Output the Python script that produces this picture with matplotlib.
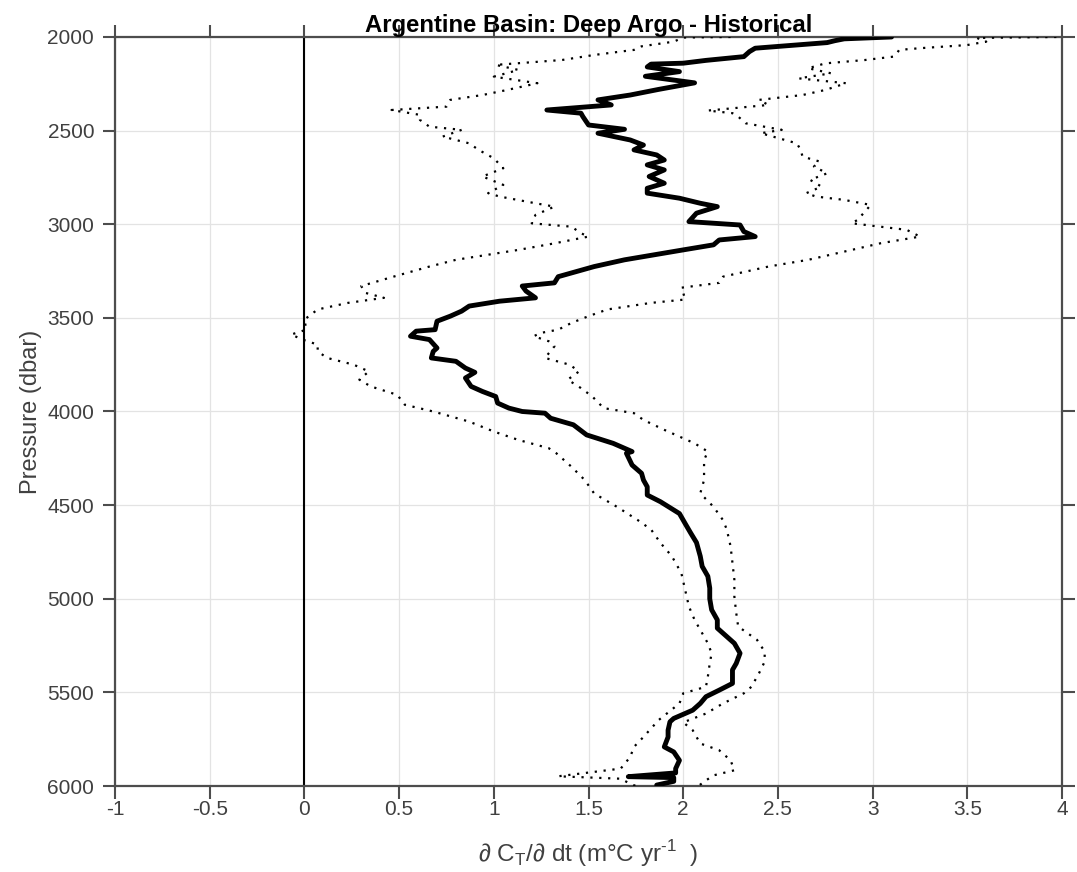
import numpy as np
import matplotlib
matplotlib.use("Agg")
import matplotlib.pyplot as plt

plt.rcParams['font.family'] = ['Liberation Sans', 'DejaVu Sans']
plt.rcParams['axes.unicode_minus'] = False
plt.rcParams['mathtext.fontset'] = 'custom'
plt.rcParams['mathtext.rm'] = 'Liberation Sans'

# mean warming-rate profile (solid line)
p_mean = [2000, 2010, 2020, 2030, 2060, 2078, 2105, 2125, 2140, 2145, 2160, 2185, 2210,
          2245, 2280, 2310, 2336, 2363, 2390, 2407, 2425, 2470, 2493, 2514, 2550, 2577,
          2603, 2630, 2657, 2683, 2710, 2745, 2781, 2808, 2834, 2861, 2888, 2906, 2941,
          2986, 3004, 3039, 3066, 3084, 3110, 3137, 3190, 3226, 3280, 3313, 3330, 3357,
          3393, 3411, 3437, 3464, 3491, 3518, 3563, 3571, 3598, 3616, 3661, 3679, 3714,
          3732, 3768, 3791, 3821, 3866, 3893, 3920, 3955, 3982, 4000, 4009, 4036, 4071,
          4125, 4170, 4214, 4223, 4286, 4330, 4366, 4402, 4446, 4482, 4545, 4598, 4650,
          4700, 4773, 4827, 4880, 4943, 5000, 5059, 5113, 5157, 5202, 5238, 5291, 5345,
          5380, 5452, 5488, 5523, 5559, 5595, 5639, 5657, 5702, 5738, 5791, 5818, 5863,
          5907, 5930, 5950, 5955, 5975, 5995]
dcdt_mean = [3.10, 2.85, 2.80, 2.76, 2.38, 2.35, 2.32, 2.12, 2.00, 1.83, 1.81, 1.98, 1.80,
             2.06, 1.87, 1.72, 1.55, 1.62, 1.28, 1.46, 1.47, 1.50, 1.69, 1.55, 1.72, 1.79,
             1.74, 1.86, 1.90, 1.81, 1.90, 1.82, 1.90, 1.81, 1.81, 1.98, 2.09, 2.18, 2.07,
             2.03, 2.30, 2.32, 2.38, 2.19, 2.16, 2.00, 1.69, 1.53, 1.34, 1.32, 1.15, 1.17,
             1.22, 1.03, 0.87, 0.83, 0.77, 0.70, 0.69, 0.59, 0.56, 0.66, 0.70, 0.68, 0.67,
             0.80, 0.85, 0.90, 0.85, 0.88, 0.94, 1.01, 1.02, 1.08, 1.15, 1.27, 1.30, 1.42,
             1.49, 1.63, 1.73, 1.70, 1.73, 1.78, 1.79, 1.81, 1.81, 1.88, 1.98, 2.01, 2.04,
             2.07, 2.09, 2.10, 2.13, 2.14, 2.14, 2.15, 2.18, 2.18, 2.23, 2.27, 2.30, 2.28,
             2.26, 2.26, 2.19, 2.12, 2.09, 2.05, 1.95, 1.93, 1.92, 1.92, 1.90, 1.95, 1.98,
             1.96, 1.96, 1.71, 1.95, 1.95, 1.86]

# lower bound (left dotted line)
p_lo = [2000, 2003, 2025, 2050, 2069, 2096, 2123, 2149, 2176, 2212, 2247, 2283, 2310,
        2336, 2372, 2390, 2416, 2443, 2479, 2496, 2532, 2568, 2603, 2648, 2701, 2745,
        2790, 2834, 2852, 2888, 2906, 2950, 2995, 3013, 3048, 3066, 3102, 3137, 3190,
        3226, 3280, 3330, 3366, 3393, 3420, 3455, 3509, 3563, 3589, 3616, 3643, 3679,
        3714, 3750, 3786, 3830, 3866, 3911, 3964, 4000, 4054, 4107, 4152, 4196, 4223,
        4295, 4366, 4438, 4509, 4580, 4630, 4702, 4773, 4863, 4952, 5041, 5113, 5166,
        5238, 5291, 5345, 5416, 5470, 5505, 5559, 5648, 5738, 5791, 5845, 5907, 5948,
        5961, 5988, 6000]
dcdt_lo = [2.25, 2.00, 1.95, 1.78, 1.74, 1.53, 1.36, 1.01, 1.13, 1.00, 1.23, 1.07, 0.94,
           0.77, 0.75, 0.46, 0.61, 0.61, 0.66, 0.83, 0.73, 0.87, 0.92, 1.00, 1.05, 0.94,
           1.05, 0.97, 1.03, 1.22, 1.32, 1.22, 1.20, 1.41, 1.46, 1.50, 1.32, 1.13, 0.80,
           0.66, 0.47, 0.30, 0.32, 0.42, 0.23, 0.07, 0.00, 0.01, -0.07, -0.01, 0.07, 0.07,
           0.12, 0.26, 0.34, 0.29, 0.35, 0.49, 0.53, 0.68, 0.87, 1.00, 1.13, 1.29, 1.33,
           1.41, 1.48, 1.53, 1.65, 1.76, 1.83, 1.88, 1.94, 1.99, 2.01, 2.03, 2.06, 2.09,
           2.13, 2.15, 2.14, 2.13, 2.12, 2.00, 1.98, 1.87, 1.79, 1.74, 1.72, 1.67, 1.34,
           1.67, 1.72, 1.75]

# upper bound (right dotted line)
p_hi = [2000, 2005, 2025, 2043, 2060, 2069, 2085, 2105, 2123, 2141, 2167, 2194, 2221,
        2247, 2283, 2310, 2336, 2363, 2393, 2407, 2425, 2461, 2496, 2514, 2568, 2603,
        2639, 2665, 2692, 2728, 2763, 2799, 2834, 2852, 2870, 2897, 2932, 2977, 2995,
        3013, 3030, 3066, 3102, 3137, 3190, 3226, 3280, 3313, 3339, 3366, 3402, 3420,
        3455, 3491, 3527, 3563, 3580, 3598, 3625, 3652, 3714, 3750, 3786, 3830, 3875,
        3920, 3982, 4009, 4045, 4098, 4170, 4214, 4259, 4366, 4437, 4509, 4580, 4630,
        4720, 4809, 4898, 4988, 5077, 5148, 5184, 5220, 5282, 5336, 5398, 5470, 5505,
        5559, 5613, 5660, 5702, 5773, 5809, 5863, 5916, 5943, 5970, 6000]
dcdt_hi = [3.97, 3.55, 3.60, 3.50, 3.25, 3.14, 3.13, 3.11, 2.96, 2.75, 2.66, 2.78, 2.61,
           2.86, 2.75, 2.63, 2.40, 2.45, 2.13, 2.26, 2.29, 2.33, 2.52, 2.41, 2.60, 2.62,
           2.63, 2.72, 2.69, 2.76, 2.67, 2.73, 2.65, 2.70, 2.85, 2.99, 2.96, 2.92, 2.89,
           3.04, 3.18, 3.25, 3.04, 2.89, 2.66, 2.45, 2.21, 2.19, 1.99, 2.00, 2.01, 1.83,
           1.60, 1.50, 1.41, 1.34, 1.25, 1.21, 1.29, 1.32, 1.27, 1.40, 1.45, 1.39, 1.46,
           1.52, 1.58, 1.74, 1.79, 1.90, 2.06, 2.13, 2.11, 2.11, 2.09, 2.16, 2.21, 2.23,
           2.25, 2.26, 2.27, 2.27, 2.28, 2.29, 2.34, 2.39, 2.43, 2.43, 2.40, 2.36, 2.32,
           2.21, 2.12, 2.00, 2.05, 2.09, 2.19, 2.25, 2.27, 2.16, 2.12, 2.08]

xticks = [-1, -0.5, 0, 0.5, 1, 1.5, 2, 2.5, 3, 3.5, 4]
xticklabels = ['-1', '-0.5', '0', '0.5', '1', '1.5', '2', '2.5', '3', '3.5', '4']
yticks = [2000, 2500, 3000, 3500, 4000, 4500, 5000, 5500, 6000]

fig = plt.figure(figsize=(10.77, 8.72), dpi=100)
ax = fig.add_axes([0.1068, 0.0986, 0.8793, 0.859])

gray = '#4d4d4d'
ax.axvline(0, color='black', lw=1.5, zorder=2)
ax.plot(dcdt_lo, p_lo, color='black', lw=1.6, linestyle=(0, (1, 3)), zorder=3)
ax.plot(dcdt_hi, p_hi, color='black', lw=1.6, linestyle=(0, (1, 3)), zorder=3)
ax.plot(dcdt_mean, p_mean, color='black', lw=3.5, zorder=4,
        solid_joinstyle='round', solid_capstyle='round')

ax.set_xlim(-1, 4)
ax.set_ylim(6000, 2000)
ax.set_xticks(xticks)
ax.set_xticklabels(xticklabels)
ax.set_yticks(yticks)
ax.grid(True, color='#e3e3e3', lw=0.9)
ax.set_axisbelow(True)

for s in ax.spines.values():
    s.set_color(gray)
    s.set_linewidth(1.6)
ax.tick_params(direction='out', length=9, width=1.5, color=gray, labelcolor='#404040',
               labelsize=15, top=True, right=True, pad=6)
ax.tick_params(axis='x', pad=1)

ax.set_ylabel('Pressure (dbar)', fontsize=17, color='#404040', labelpad=4)
ax.set_xlabel('∂ C$_\\mathregular{T}$/∂ dt (m°C yr$^\\mathregular{\u20101}$  )',
              fontsize=17.5, color='#404040', labelpad=14)
ax.set_title('Argentine Basin: Deep Argo - Historical', fontsize=17.2, fontweight='bold',
             pad=3.5)

fig.savefig('out.png', dpi=100)
